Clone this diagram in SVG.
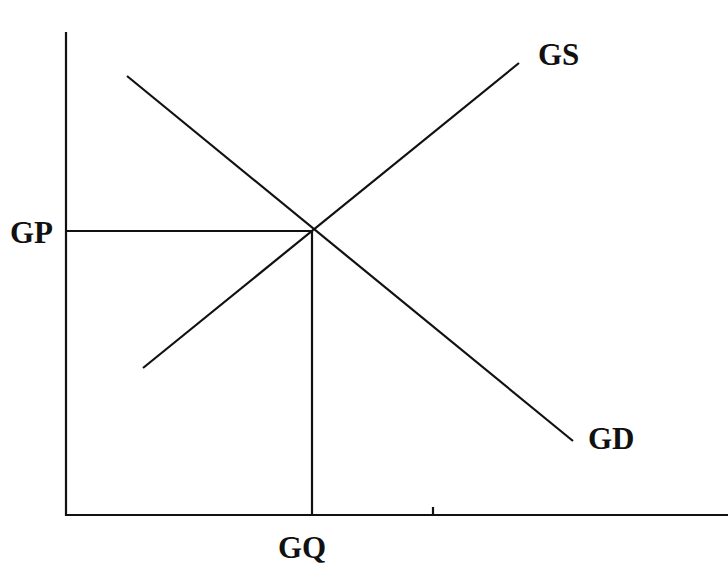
<svg xmlns="http://www.w3.org/2000/svg" width="728" height="565" viewBox="0 0 728 565">
<style>
.ln{stroke:#111;stroke-width:2.2;fill:none;stroke-linecap:butt}
.lb{font-family:"Liberation Serif","Times New Roman",serif;font-size:31px;font-weight:bold;fill:#111}
</style>
<rect width="728" height="565" fill="#fff"/>
<g id="axes">
<line class="ln" x1="66" y1="32" x2="66" y2="516"/>
<line class="ln" x1="65" y1="515" x2="728" y2="515"/>
<line class="ln" x1="433" y1="507" x2="433" y2="515" stroke-width="1.5"/>
</g>
<g id="connectors">
<line id="supply" class="ln" x1="143" y1="368" x2="519" y2="63"/>
<line id="demand" class="ln" x1="127" y1="76" x2="573" y2="441"/>
<line id="gp-line" class="ln" x1="66" y1="231" x2="312" y2="231"/>
<line id="gq-line" class="ln" x1="312" y1="231" x2="312" y2="515"/>
</g>
<g id="label-GS"><text class="lb" x="538" y="65">GS</text></g>
<g id="label-GD"><text class="lb" x="588" y="449">GD</text></g>
<g id="label-GP"><text class="lb" x="10" y="243">GP</text></g>
<g id="label-GQ"><text class="lb" x="278" y="558">GQ</text></g>
</svg>
